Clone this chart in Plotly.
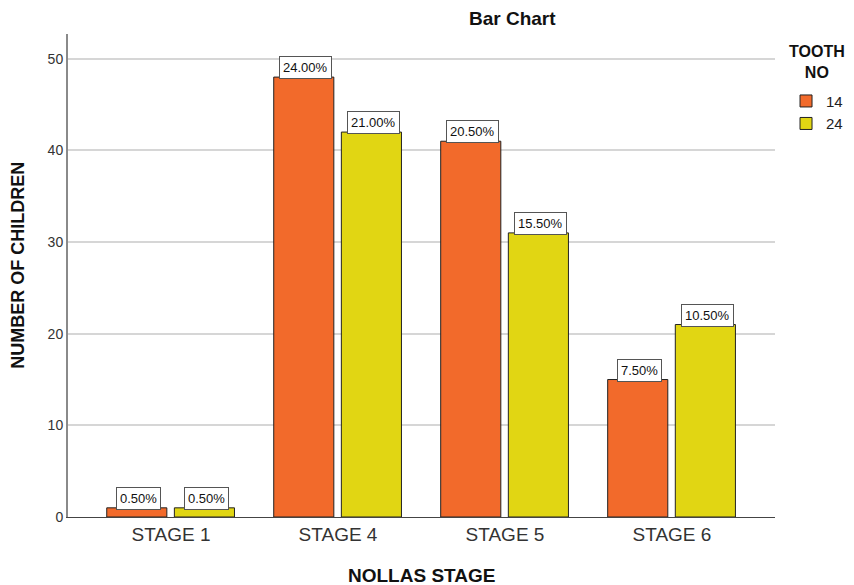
import plotly.graph_objects as go

categories = ["STAGE 1", "STAGE 4", "STAGE 5", "STAGE 6"]
counts_14 = [1, 48, 41, 15]
counts_24 = [1, 42, 31, 21]
pct_14 = ["0.50%", "24.00%", "20.50%", "7.50%"]
pct_24 = ["0.50%", "21.00%", "15.50%", "10.50%"]
series_names = ["14", "24"]

ORANGE = "#F26A2B"
YELLOW = "#E1D613"
FONT = "Liberation Sans, Arial"

fig = go.Figure()
fig.add_trace(go.Bar(x=categories, y=counts_14, name=series_names[0],
                     marker=dict(color=ORANGE, line=dict(color="#222222", width=1)),
                     width=0.36, offset=-0.385))
fig.add_trace(go.Bar(x=categories, y=counts_24, name=series_names[1],
                     marker=dict(color=YELLOW, line=dict(color="#222222", width=1)),
                     width=0.36, offset=0.02))

annotations = []
for i, c in enumerate(categories):
    for vals, labs, off in ((counts_14, pct_14, -0.195), (counts_24, pct_24, 0.21)):
        annotations.append(dict(
            x=i + off, y=vals[i], xref="x", yref="y", text=labs[i],
            showarrow=False, yanchor="bottom", xanchor="center", yshift=-2,
            font=dict(family=FONT, size=13, color="#111111"),
            bgcolor="white", bordercolor="#555555", borderwidth=1, borderpad=3))

# chart title
annotations.append(dict(x=0.629, y=1.0, xref="paper", yref="paper", yshift=16,
                        yanchor="middle", xanchor="center",
                        text="<b>Bar Chart</b>", showarrow=False,
                        font=dict(family=FONT, size=19, color="#111111")))
# axis titles
annotations.append(dict(x=-0.0707, y=0.52, xref="paper", yref="paper",
                        xanchor="center", yanchor="middle", textangle=-90,
                        text="<b>NUMBER OF CHILDREN</b>", showarrow=False,
                        font=dict(family=FONT, size=18, color="#111111")))
annotations.append(dict(x=0.5, y=0.0, xref="paper", yref="paper", yshift=-58,
                        xanchor="center", yanchor="middle",
                        text="<b>NOLLAS STAGE</b>", showarrow=False,
                        font=dict(family=FONT, size=19, color="#111111")))
# legend title
annotations.append(dict(x=1.0588, y=1.0, xref="paper", yref="paper", yshift=-7,
                        xanchor="center", yanchor="top",
                        text="<b>TOOTH<br>NO</b>", showarrow=False,
                        font=dict(family=FONT, size=16, color="#111111")))

fig.update_layout(
    # page body has an 8px margin, so the figure is drawn 8px in and sized to fit the window
    width=846, height=577,
    margin=dict(l=60, r=79, t=26, b=68, autoexpand=False),
    paper_bgcolor="white", plot_bgcolor="white",
    font=dict(family=FONT, color="#222222"),
    annotations=annotations,
    showlegend=True,
    legend=dict(
        x=1.0156, y=0.895, xanchor="left", yanchor="top",
        font=dict(size=15, color="#222222"),
        itemwidth=30, tracegroupgap=0, traceorder="normal",
        bgcolor="rgba(0,0,0,0)",
    ),
    xaxis=dict(
        type="category", range=[-0.617, 3.617], automargin=False,
        showgrid=False, showline=True, linecolor="#444444", linewidth=1,
        ticks="", tickfont=dict(size=19, color="#333333"),
    ),
    yaxis=dict(
        range=[0, 52.7], tickvals=[0, 10, 20, 30, 40, 50], automargin=False,
        showgrid=True, gridcolor="#D6D6D6", gridwidth=1.5,
        showline=True, linecolor="#8A8A8A", linewidth=2,
        zeroline=False, ticks="", tickfont=dict(size=14, color="#333333"),
    ),
)

fig.write_html("out.html")
